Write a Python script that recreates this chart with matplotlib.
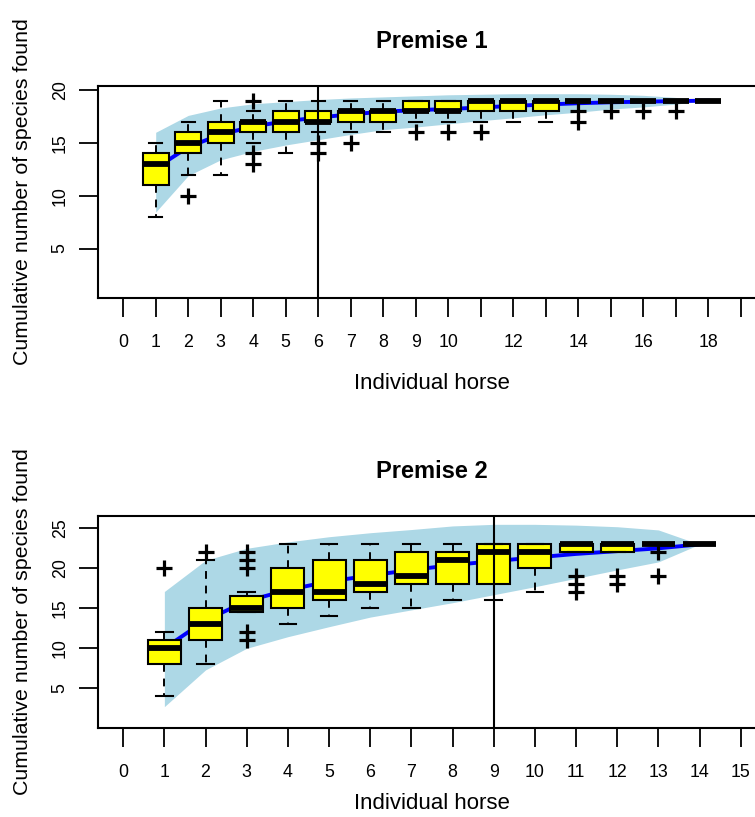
import numpy as np
import matplotlib
matplotlib.use('Agg')
import matplotlib.pyplot as plt

plt.rcParams['font.family'] = ['Liberation Sans', 'DejaVu Sans']

# Premise 1 : 18 horses
p1_x = list(range(1, 19))
p1_q1 = [11, 14, 15, 16, 16, 17, 17, 17, 18, 18, 18, 18, 18, 19, 19, 19, 19, 19]
p1_med = [13, 15, 16, 17, 17, 17, 18, 18, 18, 18, 19, 19, 19, 19, 19, 19, 19, 19]
p1_q3 = [14, 16, 17, 17, 18, 18, 18, 18, 19, 19, 19, 19, 19, 19, 19, 19, 19, 19]
p1_whislo = [8, 12, 12, 15, 14, 16, 16, 16, 17, 17, 17, 17, 17, 19, 19, 19, 19, 19]
p1_whishi = [15, 17, 19, 18, 19, 19, 19, 19, 19, 19, 19, 19, 19, 19, 19, 19, 19, 19]
p1_fliers = [[], [10], [], [19, 14, 13], [], [15, 14], [15], [], [16], [16], [16],
             [], [], [18, 17], [18], [18], [18], []]
p1_mean = [12.6, 14.6, 15.8, 16.55, 17.05, 17.4, 17.7, 17.95, 18.1, 18.2, 18.35,
           18.5, 18.63, 18.75, 18.84, 18.9, 18.95, 19.0]
p1_lo = [8.45, 11.9, 13.4, 14.2, 14.8, 15.3, 15.8, 16.25, 16.5, 16.8, 17.1, 17.37,
         17.66, 17.9, 18.2, 18.4, 18.67, 19.0]
p1_hi = [16.0, 17.6, 18.3, 18.7, 18.9, 19.1, 19.25, 19.35, 19.45, 19.55, 19.6,
         19.65, 19.65, 19.65, 19.6, 19.5, 19.3, 19.0]
p1_ticks = list(range(0, 20))
p1_ticklabels = ['0', '1', '2', '3', '4', '5', '6', '7', '8', '9', '10', '', '12', '',
                 '14', '', '16', '', '18', '']

# Premise 2 : 14 horses
p2_x = list(range(1, 15))
p2_q1 = [8, 11, 14.6, 15, 16, 17, 18, 18, 18, 20, 22, 22, 23, 23]
p2_med = [10, 13, 15, 17, 17, 18, 19, 21, 22, 22, 23, 23, 23, 23]
p2_q3 = [11, 15, 16.5, 20, 21, 21, 22, 22, 23, 23, 23, 23, 23, 23]
p2_whislo = [4, 8, 14.6, 13, 14, 15, 15, 16, 16, 17, 22, 22, 23, 23]
p2_whishi = [12, 21, 17, 23, 23, 23, 23, 23, 23, 23, 23, 23, 23, 23]
p2_fliers = [[20], [22], [22, 21, 20, 12, 11], [], [], [], [], [], [], [],
             [19, 18, 17], [19, 18], [22, 19], []]
p2_mean = [10.0, 13.5, 15.9, 17.3, 18.35, 19.1, 19.8, 20.4, 20.9, 21.35, 21.8,
           22.15, 22.5, 23.0]
p2_lo = [2.7, 7.3, 10.0, 11.45, 12.7, 13.9, 14.8, 15.7, 16.7, 17.7, 18.75, 19.8,
         20.8, 23.0]
p2_hi = [17.1, 21.0, 22.5, 23.3, 23.95, 24.45, 24.85, 25.3, 25.5, 25.5, 25.4,
         25.2, 24.8, 23.0]
p2_ticks = list(range(0, 16))
p2_ticklabels = [str(t) for t in p2_ticks]

W, H = 755, 817
fig = plt.figure(figsize=(W / 100, H / 100), dpi=100)


def panel(rect, title, x, q1, med, q3, wlo, whi, fl, mean, lo, hi,
          ticks, ticklabels, xlim, ylim, yticks, vline, xlab_y):
    ax = fig.add_axes(rect)
    ax.fill_between(x, lo, hi, color='#add8e6', lw=0, zorder=1)
    ax.plot(x, mean, color='#0000ff', lw=2.8, zorder=2)
    stats = []
    for i in range(len(x)):
        stats.append(dict(med=med[i], q1=q1[i], q3=q3[i], whislo=wlo[i],
                          whishi=whi[i], fliers=fl[i]))
    ax.bxp(stats, positions=x, widths=0.8, capwidths=0.4, patch_artist=True,
           manage_ticks=False, zorder=3,
           boxprops=dict(facecolor='yellow', edgecolor='black', lw=1.5),
           medianprops=dict(color='black', lw=4.2, solid_capstyle='butt'),
           whiskerprops=dict(color='black', lw=1.4, ls=(0, (4, 3.5))),
           capprops=dict(color='black', lw=1.5),
           flierprops=dict(marker='+', markersize=11, markeredgewidth=2.3,
                           markeredgecolor='black'))
    ax.axvline(vline, color='black', lw=1.5, zorder=5)
    ax.set_xlim(*xlim)
    ax.set_ylim(*ylim)
    ax.set_xticks(ticks)
    ax.set_xticklabels(ticklabels)
    ax.set_yticks(yticks)
    ax.set_yticklabels([str(t) for t in yticks], rotation=90, va='center')
    ax.tick_params(axis='both', length=13.5, width=1.3, labelsize=12.8, color='black')
    ax.tick_params(axis='x', pad=12.5)
    ax.tick_params(axis='y', pad=8)
    for s in ax.spines.values():
        s.set_linewidth(1.5)
    ax.set_title(title, fontsize=17, fontweight='bold', pad=27.5)
    ax.set_xlabel('Individual horse', fontsize=16)
    ax.set_ylabel('Cumulative number of species found', fontsize=15.4)
    ax.xaxis.set_label_coords(0.5, xlab_y)
    ax.yaxis.set_label_coords(-0.1, 0.5)
    return ax


panel([98.5 / W, 1 - 297.7 / H, 666.9 / W, 212 / H], 'Premise 1',
      p1_x, p1_q1, p1_med, p1_q3, p1_whislo, p1_whishi, p1_fliers,
      p1_mean, p1_lo, p1_hi, p1_ticks, p1_ticklabels,
      (-0.76, 19.76), (0.35, 20.41), [5, 10, 15, 20], 6, -0.355)

panel([98.5 / W, 1 - 727.7 / H, 666.9 / W, 212 / H], 'Premise 2',
      p2_x, p2_q1, p2_med, p2_q3, p2_whislo, p2_whishi, p2_fliers,
      p2_mean, p2_lo, p2_hi, p2_ticks, p2_ticklabels,
      (-0.6, 15.6), (0.07, 26.58), [5, 10, 15, 20, 25], 9, -0.31)

fig.savefig('out.png', dpi=100)
